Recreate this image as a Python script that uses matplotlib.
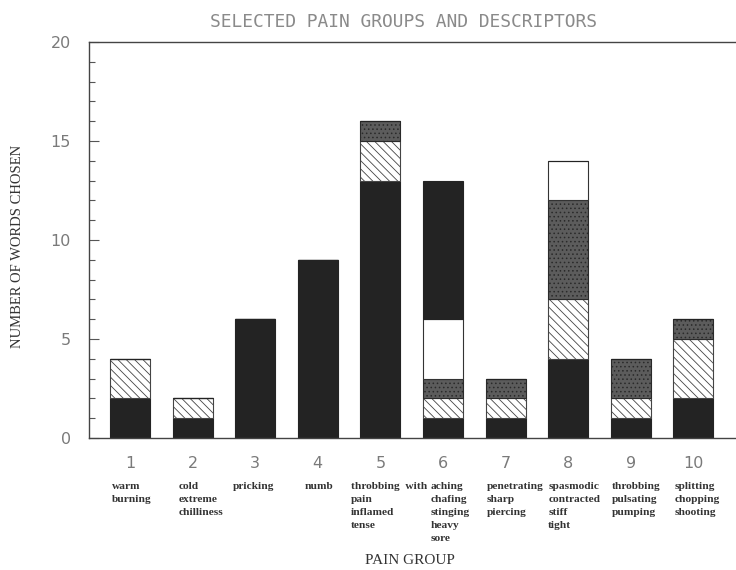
import numpy as np
import matplotlib
matplotlib.use("Agg")
import matplotlib.pyplot as plt
from matplotlib.ticker import MultipleLocator

# Werte pro Schmerzgruppe (von unten nach oben gestapelt)
groups = [1, 2, 3, 4, 5, 6, 7, 8, 9, 10]
black_low = [2, 1, 6, 9, 13, 1, 1, 4, 1, 2]
hatched = [2, 1, 0, 0, 2, 1, 1, 3, 1, 3]
dotted = [0, 0, 0, 0, 1, 1, 1, 5, 2, 1]
white = [0, 0, 0, 0, 0, 3, 0, 2, 0, 0]
black_top = [0, 0, 0, 0, 0, 7, 0, 0, 0, 0]

descriptors = [
    "warm\nburning",
    "cold\nextreme\nchilliness",
    "pricking",
    "numb",
    "throbbing  with\npain\ninflamed\ntense",
    "aching\nchafing\nstinging\nheavy\nsore",
    "penetrating\nsharp\npiercing",
    "spasmodic\ncontracted\nstiff\ntight",
    "throbbing\npulsating\npumping",
    "splitting\nchopping\nshooting",
]
# Versatz der Beschriftung links vom Balkenmittelpunkt
desc_dx = [-0.29, -0.22, -0.35, -0.21, -0.47, -0.19, -0.3, -0.32, -0.3, -0.3]

plt.rcParams['hatch.linewidth'] = 0.6

fig = plt.figure(figsize=(7.36, 5.70), dpi=100)
ax = fig.add_axes([89 / 736, 132 / 570, 651 / 736, 396 / 570])

x = np.array(groups)
w = 0.64
bottom = np.zeros(len(groups))

layers = [
    (black_low, dict(color='#232323', edgecolor='#232323')),
    (hatched, dict(color='white', edgecolor='#444444', hatch='\\\\\\\\')),
    (dotted, dict(color='#5c5c5c', edgecolor='#2a2a2a', hatch='....')),
    (white, dict(color='white', edgecolor='#333333')),
    (black_top, dict(color='#232323', edgecolor='#232323')),
]
for vals, style in layers:
    vals = np.array(vals, dtype=float)
    ax.bar(x, vals, w, bottom=bottom, linewidth=0.8, **style)
    bottom += vals

ax.set_xlim(1 - 41 / 62.6, 1 + 610 / 62.6)
ax.set_ylim(0, 20)

ax.spines['right'].set_visible(False)
for s in ['left', 'top', 'bottom']:
    ax.spines[s].set_color('#444444')
    ax.spines[s].set_linewidth(1.0)

ax.yaxis.set_major_locator(MultipleLocator(5))
ax.yaxis.set_minor_locator(MultipleLocator(1))
ax.tick_params(axis='y', which='major', direction='in', length=7, width=0.8,
               color='#555555', pad=13, labelsize=11.5, labelcolor='#7a7a7a')
ax.tick_params(axis='y', which='minor', direction='in', length=4, width=0.8,
               color='#555555')
ax.set_xticks(groups)
ax.set_xticklabels([str(g) for g in groups])
ax.tick_params(axis='x', length=0, pad=13, labelsize=11.5, labelcolor='#7a7a7a')

trans = ax.get_xaxis_transform()
for g, txt, dx in zip(groups, descriptors, desc_dx):
    ax.text(g + dx, -0.11, txt, transform=trans, ha='left', va='top',
            fontsize=8.2, fontweight='bold', family='Liberation Serif',
            color='#333333', linespacing=1.6)

fig.text(403 / 736, 1 - 22 / 570, "SELECTED PAIN GROUPS AND DESCRIPTORS",
         ha='center', va='center', fontsize=12.9, family='DejaVu Sans Mono',
         color='#8a8a8a')
fig.text(18 / 736, 1 - 246 / 570, "NUMBER OF WORDS CHOSEN", rotation=90,
         ha='center', va='center', fontsize=10.5, family='Liberation Serif',
         color='#333333')
fig.text(410 / 736, 1 - 560 / 570, "PAIN GROUP", ha='center', va='center',
         fontsize=11, family='Liberation Serif', color='#333333')

fig.savefig("out.png", dpi=100)
